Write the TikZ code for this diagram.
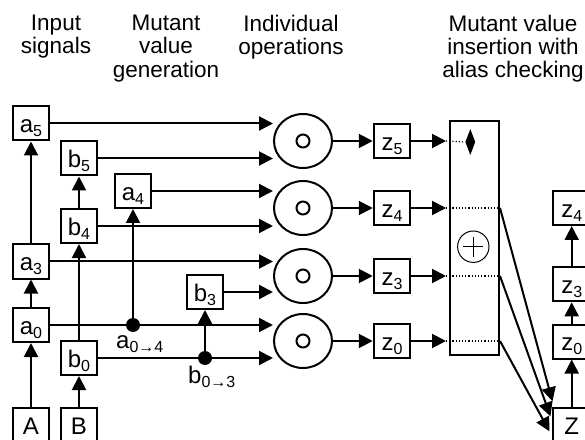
\documentclass[tikz,border=0pt]{standalone}
\usepackage{fontspec}
\setmainfont{Liberation Sans}
\usetikzlibrary{arrows.meta,shapes.geometric,positioning}
\newcommand{\lowix}[1]{\raisebox{-4bp}{\fontsize{16bp}{16bp}\selectfont #1}}

\tikzset{
  sig/.style={draw, line width=2bp, minimum width=36.5bp, minimum height=34bp,
    inner sep=0pt, text height=18.5bp, text depth=0pt, font=\fontsize{24bp}{24bp}\selectfont},
  op/.style={draw, ellipse, line width=2bp, minimum width=58bp, minimum height=54bp, inner sep=0pt},
  wire/.style={line width=2bp},
  arr/.style={wire, -{Triangle[length=14bp,width=14bp]}},
  tap/.style={circle, fill, minimum size=14bp, inner sep=0pt},
  head/.style={align=center, anchor=north, inner sep=0pt, font=\fontsize{22.5bp}{23.3bp}\selectfont},
  lbl/.style={anchor=base west, inner sep=0pt, font=\fontsize{24bp}{24bp}\selectfont},
}

\begin{document}
\begin{tikzpicture}[x=1bp,y=-1bp]
  \useasboundingbox (0,0) rectangle (585,440);
  \clip (0,0) rectangle (585,440);

  % column titles
  \node[head] (t1) at (56,14.8) {Input\\signals};
  \node[head] (t2) at (166,14.8) {Mutant\\value\\generation};
  \node[head] (t3) at (291,14.8) {Individual\\operations};
  \node[head] (t4) at (513,14.8) {Mutant value\\insertion with\\alias checking};

  % inputs and mutant values
  \node[sig] (A) at (31,425.3) {A};
  \node[sig] (B) at (79,425.3) {B};
  \node[sig] (a0) at (31,325) {a\lowix{0}};
  \node[sig] (b0) at (79,358) {b\lowix{0}};
  \node[sig] (a3) at (31,261.5) {a\lowix{3}};
  \node[sig] (b4) at (79,226) {b\lowix{4}};
  \node[sig] (a4) at (133,191) {a\lowix{4}};
  \node[sig] (b5) at (79,158.5) {b\lowix{5}};
  \node[sig] (a5) at (31,123.5) {a\lowix{5}};
  \node[sig] (b3) at (205,292) {b\lowix{3}};

  \draw[arr] (A) -- (a0);
  \draw[arr] (a0) -- (a3);
  \draw[arr] (a3) -- (a5);
  \draw[arr] (B) -- (b0);
  \draw[arr] (b0) -- (b4);
  \draw[arr] (b4) -- (b5);

  % operations
  \foreach \k/\y in {5/141,4/208,3/276,0/341}{
    \node[op] (op\k) at (303,\y) {};
    \draw[line width=2bp] (op\k) circle (6.5bp);
    \node[sig] (z\k) at (392,\y) {z\lowix{\k}};
    \draw[arr] (op\k) -- (z\k);
  }

  \draw[arr] (a5) -- (a5 -| op5.west);
  \draw[arr] (b5) -- (b5 -| op5.west);
  \draw[arr] (a4) -- (a4 -| op4.west);
  \draw[arr] (b4) -- (b4 -| op4.west);
  \draw[arr] (a3) -- (a3 -| op3.west);
  \draw[arr] (b3) -- (b3 -| op3.west);
  \draw[arr] (a0) -- (a0 -| op0.west);
  \draw[arr] (b0) -- (b0 -| op0.west);

  \node[tap] (da) at (a4 |- a0) {};
  \node[tap] (db) at (b3 |- b0) {};
  \draw[arr] (da) -- (a4);
  \draw[arr] (db) -- (b3);
  \node[lbl] (la) at ([xshift=-17bp,yshift=-23bp]da.center) {a\lowix{0→4}};
  \node[lbl] (lb) at ([xshift=-17bp,yshift=-25bp]db.center) {b\lowix{0→3}};

  % insertion
  \node[draw, line width=2bp, minimum width=49bp, minimum height=234bp, inner sep=0pt] (ins) at (474.5,238) {};
  \node[diamond, fill, minimum width=10bp, minimum height=26bp, inner sep=0pt] (dia) at (470.3,142) {};
  \draw[line width=1bp] (473.3,246.7) coordinate (px) circle (15.7bp);
  \draw[line width=1bp] ([xshift=-10bp]px) -- ([xshift=10bp]px) ([yshift=-10bp]px) -- ([yshift=10bp]px);

  \foreach \k in {5,4,3,0}{
    \coordinate (in\k) at ([xshift=-3bp]z\k -| ins.west);
    \draw[arr] (z\k) -- (in\k);
  }
  \draw[dotted, line width=1.2bp] (in5) -- (dia.west);
  \foreach \k in {4,3,0}
    \draw[dotted, line width=1.2bp] (in\k) -- (z\k -| ins.east);

  % result
  \node[sig] (outZ) at (571.7,425.3) {Z};
  \node[sig] (out0) at (571.7,341.5) {z\lowix{0}};
  \node[sig] (out3) at (571.7,284.3) {z\lowix{3}};
  \node[sig] (out4) at (571.7,208) {z\lowix{4}};
  \draw[arr] (outZ) -- (out0);
  \draw[arr] (out0) -- (out3);
  \draw[arr] (out3) -- (out4);

  \draw[arr] (z4 -| ins.east) -- ([yshift=6bp]outZ.north west);
  \draw[arr] (z3 -| ins.east) -- ([xshift=-2bp,yshift=-9bp]outZ.north west);
  \draw[arr] (z0 -| ins.east) -- ([xshift=-3bp,yshift=-24bp]outZ.north west);
\end{tikzpicture}
\end{document}
